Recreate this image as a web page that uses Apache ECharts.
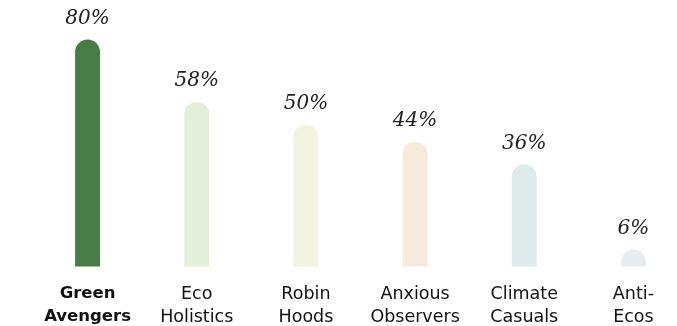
<!DOCTYPE html>
<html>
<head>
<meta charset="utf-8">
<script src="https://cdn.jsdelivr.net/npm/echarts@6/dist/echarts.min.js"></script>
<style>
  html, body { margin: 0; padding: 0; background: #ffffff; overflow: hidden; }
  #chart { width: 700px; height: 326px; }
</style>
</head>
<body>
<div id="chart"></div>
<script>
// Share of respondents per segment
const categories = ['Green\nAvengers', 'Eco\nHolistics', 'Robin\nHoods', 'Anxious\nObservers', 'Climate\nCasuals', 'Anti-\nEcos'];
const values = [80, 58, 50, 44, 36, 6];
const barColors = ['#487b46', '#e3efd8', '#f2f3e0', '#f6ebdb', '#dfebea', '#e9ecef'];

const chart = echarts.init(document.getElementById('chart'), null, { renderer: 'canvas' });

chart.setOption({
  animation: false,
  grid: { left: 33, right: 12, top: 39.5, bottom: 59.5, containLabel: false, outerBoundsMode: 'none' },
  xAxis: {
    type: 'category',
    data: categories,
    axisLine: { show: false },
    axisTick: { show: false },
    axisLabel: {
      interval: 0,
      margin: 16,
      lineHeight: 23,
      fontSize: 17.5,
      fontFamily: 'DejaVu Sans',
      color: '#111111',
      formatter: function (v, i) {
        return i === 0 ? '{b|' + v.split('\n').join('}\n{b|') + '}' : v;
      },
      rich: {
        b: { fontWeight: 'bold', fontSize: 16.5, fontFamily: 'DejaVu Sans', color: '#111111', lineHeight: 23 }
      }
    }
  },
  yAxis: {
    type: 'value',
    min: 0,
    max: 80,
    show: false,
    splitLine: { show: false }
  },
  series: [{
    type: 'bar',
    barWidth: 25,
    data: values.map((v, i) => ({ value: v, itemStyle: { color: barColors[i] } })),
    itemStyle: { borderRadius: [12.5, 12.5, 0, 0] },
    label: {
      show: true,
      position: 'top',
      distance: 11,
      formatter: '{c}%',
      fontFamily: 'DejaVu Serif',
      fontStyle: 'italic',
      fontSize: 20,
      color: '#222222'
    }
  }]
});
</script>
</body>
</html>
